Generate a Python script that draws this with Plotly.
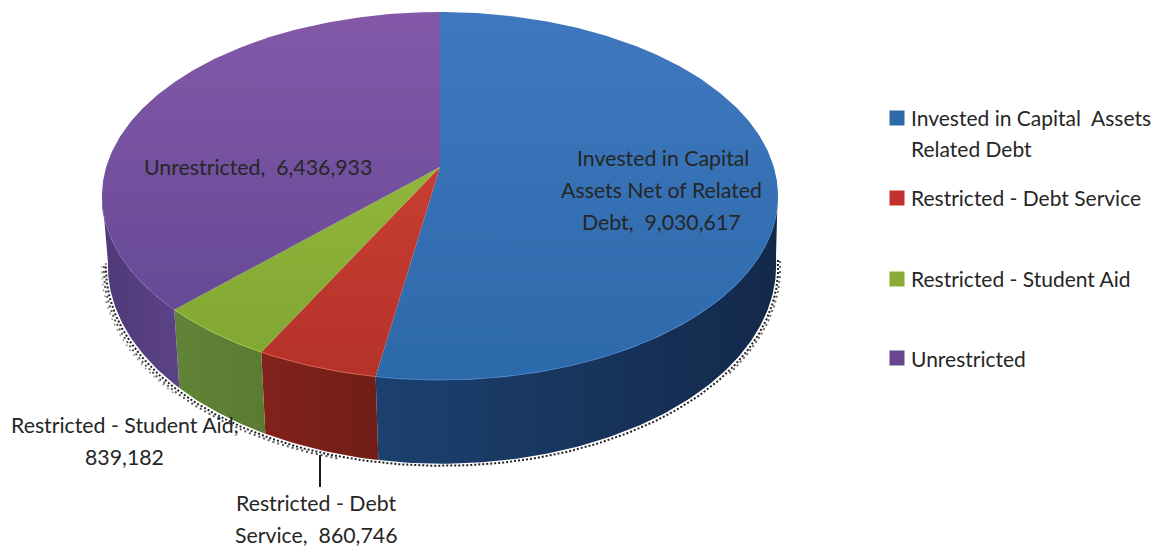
import numpy as np
import plotly.graph_objects as go

categories = ["Invested in Capital Assets Net of Related Debt", "Restricted - Debt Service",
              "Restricted - Student Aid", "Unrestricted"]
values = [9030617, 860746, 839182, 6436933]
legend_lines = [["Invested in Capital  Assets", "Related Debt"], ["Restricted - Debt Service"],
                ["Restricted - Student Aid"], ["Unrestricted"]]
legend_y = [[117, 148], [197], [278], [358]]
marker_y = [118, 198, 279, 358]
label_lines = ["Invested in Capital", "Assets Net of Related", "Debt,  9,030,617", "Unrestricted,  6,436,933",
               "Restricted - Student Aid,", "839,182", "Restricted - Debt", "Service,  860,746"]
label_x = [663, 661, 661, 258, 124, 124, 316, 316]
label_y = [158, 190, 222, 167, 425, 457, 503, 535]
top_colors = [("#4078bf", "#2c69aa"), ("#c63e31", "#b5322a"), ("#90b63a", "#82a733"), ("#8358a8", "#664a95")]
wall_colors = [("#1c4170", "#13294a"), ("#82221b", "#701e18"), ("#618438", "#5a7b32"), ("#4f3a78", "#5c4287")]
rim_colors = ["#4681c8", "#d85f4f", "#a2c650", "#8462b0"]
legend_colors = ["#2e69aa", "#c0312f", "#86ab36", "#67478f"]
TEXT = "#262626"
FONT = "Lato"
FS_LABEL = 21.3
FS_LEGEND = 21

# projection of the tilted disc
CX, CY, W, A, C = 440, 167, 333.8, 179.4, 0.1576
BX, BY, BW, BA = 442, 234, 330, 193.5

def top(theta):
    u, v = np.sin(theta), np.cos(theta)
    d = 1 + C * v
    return CX + W * u / d, CY - A * v / d

def bottom(theta):
    u, v = np.sin(theta), np.cos(theta)
    d = 1 + C * v
    return BX + BW * u / d, BY - BA * v / d

def rng(a, b):
    return np.linspace(a, b, max(int(abs(b - a) * 80), 4))

cum = np.concatenate([[0], np.cumsum(values)]) / sum(values) * 2 * np.pi
fig = go.Figure()

# dithered drop shadow round the lower edge
def shadow(a, b, off, col, wd, dash):
    t = rng(np.radians(a), np.radians(b))
    xs, ys = bottom(t)
    sx = np.where(xs > 440, off[0], -off[0])
    fig.add_trace(go.Scatter(x=xs + sx, y=ys + off[1], mode="lines", hoverinfo="skip", showlegend=False,
                             line=dict(color=col, width=wd, dash=dash)))

shadow(97, 262, (2, 2), "#222222", 2, "2px,2px")
shadow(97, 130, (4, 3), "#666666", 2, "2px,3px")
shadow(195, 262, (4, 4), "#555555", 2, "2px,3px")
shadow(225, 262, (6, 5), "#999999", 1.5, "2px,4px")

# side walls, only the front part of the cylinder is seen
wall_range = [(np.radians(97), cum[1]), (cum[1], cum[2]), (cum[2], cum[3]), (cum[3], np.radians(262))]
for i, (a, b) in enumerate(wall_range):
    t = rng(a, b)
    tx, ty = top(t)
    bx, by = bottom(t)
    fig.add_trace(go.Scatter(
        x=np.concatenate([tx, bx[::-1]]), y=np.concatenate([ty, by[::-1]]), mode="lines", fill="toself",
        line=dict(width=0), name=categories[i], showlegend=False, hoverinfo="skip",
        fillgradient=dict(type="horizontal", colorscale=[[0, wall_colors[i][0]], [1, wall_colors[i][1]]])))

# top faces
for i in range(len(values)):
    t = rng(cum[i], cum[i + 1])
    tx, ty = top(t)
    fig.add_trace(go.Scatter(
        x=np.concatenate([[CX], tx, [CX]]), y=np.concatenate([[CY], ty, [CY]]), mode="lines", fill="toself",
        line=dict(width=0), name=categories[i], showlegend=False,
        fillgradient=dict(type="vertical", colorscale=[[0, top_colors[i][1]], [1, top_colors[i][0]]])))

# light rim where the top face meets the wall
for i, (a, b) in enumerate([(np.radians(105), cum[1]), (cum[1], cum[2]), (cum[2], cum[3]), (cum[3], np.radians(258))]):
    tx, ty = top(rng(a, b))
    fig.add_trace(go.Scatter(x=tx, y=ty, mode="lines", hoverinfo="skip", showlegend=False,
                             line=dict(color=rim_colors[i], width=1)))

# leader line
fig.add_trace(go.Scatter(x=[320, 320], y=[455, 487], mode="lines", hoverinfo="skip", showlegend=False,
                         line=dict(color="#1a1a1a", width=2)))

# legend swatches
fig.add_trace(go.Scatter(x=[897] * 4, y=marker_y, mode="markers", hoverinfo="skip", showlegend=False,
                         marker=dict(symbol="square", size=15, color=legend_colors)))

ann = []
for x, y, s in zip(label_x, label_y, label_lines):
    ann.append(dict(x=x, y=y, text=s, showarrow=False, xanchor="center", yanchor="middle",
                    font=dict(family=FONT, size=FS_LABEL, color=TEXT)))
for lines, ys in zip(legend_lines, legend_y):
    for s, y in zip(lines, ys):
        ann.append(dict(x=909, y=y, text=s, showarrow=False, xanchor="left", yanchor="middle",
                        font=dict(family=FONT, size=FS_LEGEND, color=TEXT)))

fig.update_layout(width=1154, height=548, margin=dict(l=0, r=0, t=0, b=0), paper_bgcolor="white",
                  plot_bgcolor="white", showlegend=False, annotations=ann,
                  xaxis=dict(range=[0, 1154], visible=False, fixedrange=True),
                  yaxis=dict(range=[548, 0], visible=False, fixedrange=True))
fig.write_html("out.html", config={"displayModeBar": False},
               post_script="document.body.style.margin='0';document.body.style.overflow='hidden';")
